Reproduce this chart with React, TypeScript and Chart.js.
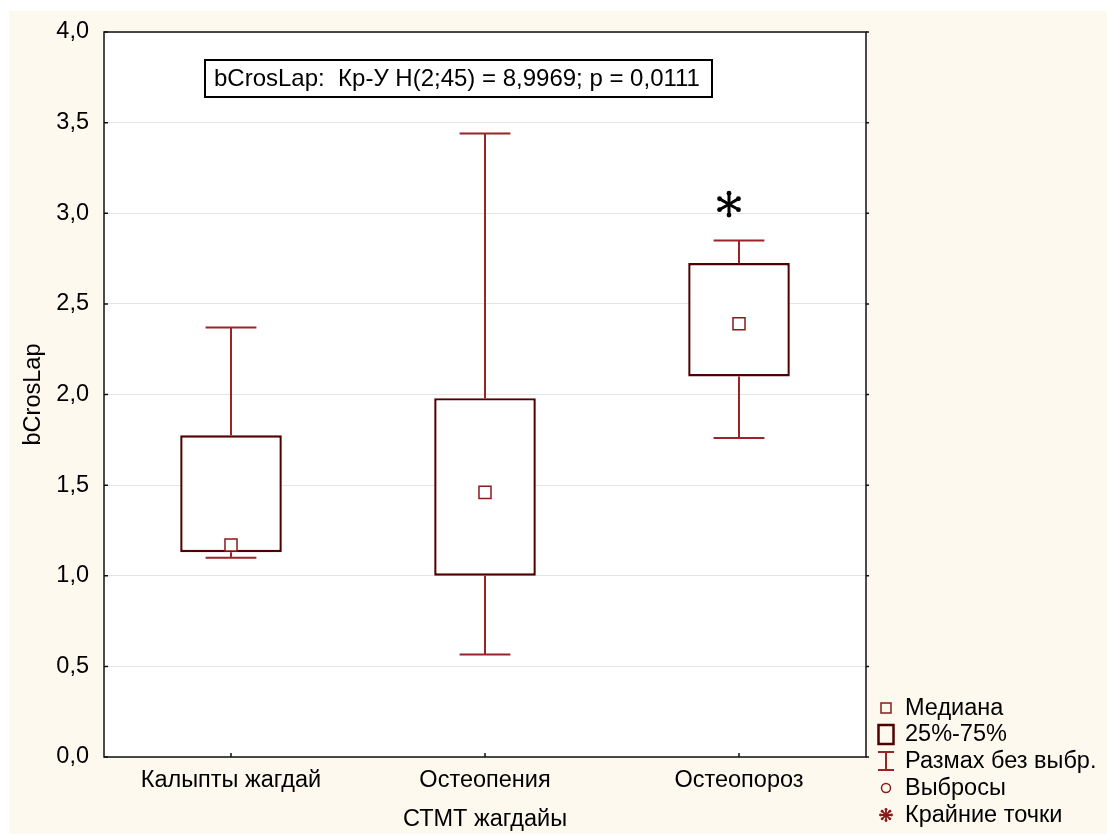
import React, { useEffect, useRef } from 'react';
import { Chart, registerables } from 'chart.js';

Chart.register(...registerables);

// ---- data ----
const categories = ['Калыпты жагдай', 'Остеопения', 'Остеопороз'];
const medians = [1.17, 1.46, 2.39];
const q1 = [1.13, 1.0, 2.1];
const q3 = [1.775, 1.98, 2.725];
const whiskerLow = [1.1, 0.565, 1.76];
const whiskerHigh = [2.37, 3.44, 2.85];
const extremeValues: (number | null)[] = [null, null, 3.05];
const yTickValues = [0, 0.5, 1, 1.5, 2, 2.5, 3, 3.5, 4];
const yTickLabels = ['0,0', '0,5', '1,0', '1,5', '2,0', '2,5', '3,0', '3,5', '4,0'];
const statText = 'bCrosLap:  Кр-У H(2;45) = 8,9969; p = 0,0111';
const legendLabels = ['Медиана', '25%-75%', 'Размах без выбр.', 'Выбросы', 'Крайние точки'];
const yTitle = 'bCrosLap';
const xTitle = 'СТМТ жагдайы';

// ---- styles ----
const FONT = 'Arial, "Liberation Sans", sans-serif';
const FS = 23.5;
const CREAM = '#fef9ef';
const WHISKER = '#992326';
const BOXC = '#4f0000';
const MEDC = '#8b1a1a';

function drawAsterisk(ctx: CanvasRenderingContext2D, x: number, y: number, r: number, color: string, lw: number, spokes: number) {
  ctx.save();
  ctx.strokeStyle = color;
  ctx.fillStyle = color;
  ctx.lineWidth = lw;
  ctx.lineCap = 'round';
  for (let i = 0; i < spokes; i++) {
    const ang = -Math.PI / 2 + (i * 2 * Math.PI) / spokes;
    ctx.beginPath();
    ctx.moveTo(x, y);
    ctx.lineTo(x + Math.cos(ang) * r * 0.8, y + Math.sin(ang) * r * 0.8);
    ctx.stroke();
    ctx.beginPath();
    ctx.arc(x + Math.cos(ang) * r * 0.78, y + Math.sin(ang) * r * 0.78, lw * 0.8, 0, Math.PI * 2);
    ctx.fill();
  }
  ctx.restore();
}

const statPlugin = {
  id: 'statPlugin',
  beforeDraw(chart: any) {
    const { ctx, width, height, chartArea: a } = chart;
    ctx.save();
    ctx.fillStyle = CREAM;
    ctx.fillRect(0, 0, width, height);
    ctx.fillStyle = '#ffffff';
    ctx.fillRect(a.left, a.top, a.right - a.left, a.bottom - a.top);
    ctx.restore();
  },
  beforeDatasetsDraw(chart: any) {
    const { ctx } = chart;
    const xs = chart.scales.x;
    const ys = chart.scales.y;
    const meta = chart.getDatasetMeta(0);
    ctx.save();
    ctx.strokeStyle = WHISKER;
    ctx.lineWidth = 2;
    categories.forEach((_, i) => {
      const x = xs.getPixelForValue(i);
      const half = (meta.data[i]?.width ?? 100) * 0.25;
      const yl = ys.getPixelForValue(whiskerLow[i]);
      const yh = ys.getPixelForValue(whiskerHigh[i]);
      const y1 = ys.getPixelForValue(q1[i]);
      const y3 = ys.getPixelForValue(q3[i]);
      ctx.beginPath();
      ctx.moveTo(x, yh); ctx.lineTo(x, y3);
      ctx.moveTo(x, y1); ctx.lineTo(x, yl);
      ctx.moveTo(x - half, yh); ctx.lineTo(x + half, yh);
      ctx.moveTo(x - half, yl); ctx.lineTo(x + half, yl);
      ctx.stroke();
    });
    ctx.restore();
  },
  afterDatasetsDraw(chart: any) {
    const { ctx, chartArea: a } = chart;
    const xs = chart.scales.x;
    const ys = chart.scales.y;
    ctx.save();
    // frame
    ctx.strokeStyle = '#111111';
    ctx.lineWidth = 1.5;
    ctx.strokeRect(a.left, a.top, a.right - a.left, a.bottom - a.top);
    // ticks
    ctx.beginPath();
    yTickValues.forEach((v) => {
      const y = ys.getPixelForValue(v);
      ctx.moveTo(a.left, y); ctx.lineTo(a.left + 4, y);
      ctx.moveTo(a.right, y); ctx.lineTo(a.right + 3, y);
    });
    categories.forEach((_, i) => {
      const x = xs.getPixelForValue(i);
      ctx.moveTo(x, a.bottom); ctx.lineTo(x, a.bottom - 4);
    });
    ctx.stroke();
    // extreme points
    extremeValues.forEach((v, i) => {
      if (v == null) return;
      drawAsterisk(ctx, xs.getPixelForValue(i) - 10, ys.getPixelForValue(v), 14, '#000000', 3, 6);
    });
    // stat box
    const bx = a.left + 101, by = a.top + 28, bw = 507, bh = 37;
    ctx.fillStyle = '#ffffff';
    ctx.fillRect(bx, by, bw, bh);
    ctx.strokeStyle = '#000000';
    ctx.lineWidth = 2;
    ctx.strokeRect(bx, by, bw, bh);
    ctx.fillStyle = '#000000';
    ctx.font = `24px ${FONT}`;
    ctx.textBaseline = 'middle';
    ctx.textAlign = 'left';
    ctx.fillText(statText, bx + 9, by + bh / 2 + 1);
    // legend
    ctx.font = `${FS}px ${FONT}`;
    const sx = a.right + 20;
    const tx = a.right + 39;
    const rows = [-49, -23, 4, 31, 58].map((d) => a.bottom + d);
    legendLabels.forEach((lbl, i) => {
      const y = rows[i];
      ctx.fillStyle = '#000000';
      ctx.fillText(lbl, tx, y + 1);
      if (i === 0) {
        ctx.strokeStyle = MEDC; ctx.lineWidth = 1.5;
        ctx.strokeRect(sx - 5, y - 5, 10, 10);
      } else if (i === 1) {
        ctx.strokeStyle = BOXC; ctx.lineWidth = 2.5;
        ctx.strokeRect(sx - 7.5, y - 9, 15, 19);
      } else if (i === 2) {
        ctx.strokeStyle = WHISKER; ctx.lineWidth = 2;
        ctx.beginPath();
        ctx.moveTo(sx, y - 9); ctx.lineTo(sx, y + 9);
        ctx.moveTo(sx - 8, y - 9); ctx.lineTo(sx + 8, y - 9);
        ctx.moveTo(sx - 8, y + 9); ctx.lineTo(sx + 8, y + 9);
        ctx.stroke();
      } else if (i === 3) {
        ctx.strokeStyle = MEDC; ctx.lineWidth = 1.5;
        ctx.beginPath();
        ctx.arc(sx, y, 4.5, 0, Math.PI * 2);
        ctx.stroke();
      } else {
        drawAsterisk(ctx, sx, y, 7, MEDC, 1.8, 8);
      }
    });
    ctx.restore();
  },
};

export default function App() {
  const ref = useRef<HTMLCanvasElement | null>(null);
  useEffect(() => {
    if (!ref.current) return;
    const chart = new Chart(ref.current, {
      data: {
        labels: categories,
        datasets: [
          {
            type: 'bar',
            order: 2,
            data: categories.map((_, i) => [q1[i], q3[i]]) as any,
            backgroundColor: '#ffffff',
            borderColor: BOXC,
            borderWidth: 2.4,
            borderSkipped: false,
            categoryPercentage: 1,
            barPercentage: 0.4,
          } as any,
          {
            type: 'line',
            order: 1,
            data: medians,
            showLine: false,
            pointStyle: 'rect',
            pointRadius: 8.5,
            pointBorderWidth: 1.5,
            pointBorderColor: MEDC,
            pointBackgroundColor: '#ffffff',
          } as any,
        ],
      },
      options: {
        animation: false,
        responsive: false,
        maintainAspectRatio: false,
        layout: { padding: { top: 21, right: 241, left: 0, bottom: 0 } },
        plugins: { legend: { display: false }, tooltip: { enabled: false } },
        scales: {
          x: {
            offset: true,
            grid: { display: false, drawTicks: false },
            border: { display: false },
            ticks: { color: '#000', font: { family: FONT, size: FS }, padding: 9 },
            title: { display: true, text: xTitle, color: '#000', font: { family: FONT, size: FS }, padding: { top: 0, bottom: 0 } },
            afterFit: (s: any) => { s.height = 77; s.paddingLeft = 0; s.paddingRight = 0; },
          },
          y: {
            min: 0,
            max: 4,
            grid: { color: '#e4e4e4', lineWidth: 1, drawTicks: false },
            border: { display: false },
            afterBuildTicks: (s: any) => { s.ticks = yTickValues.map((v) => ({ value: v })); },
            ticks: {
              color: '#000',
              font: { family: FONT, size: FS },
              padding: 15,
              callback: (v: any) => yTickLabels[yTickValues.indexOf(Number(v))] ?? '',
            },
            title: { display: true, text: yTitle, color: '#000', font: { family: FONT, size: FS }, padding: { top: 10, bottom: 0 } },
            afterFit: (s: any) => { s.width = 95; s.paddingTop = 0; s.paddingBottom = 0; },
          },
        },
      },
      plugins: [statPlugin],
    } as any);
    return () => chart.destroy();
  }, []);
  return (
    <div style={{ position: 'absolute', left: 9, top: 11, width: 1098, height: 823 }}>
      <canvas ref={ref} width={1098} height={823} style={{ display: 'block', width: 1098, height: 823 }} />
    </div>
  );
}
